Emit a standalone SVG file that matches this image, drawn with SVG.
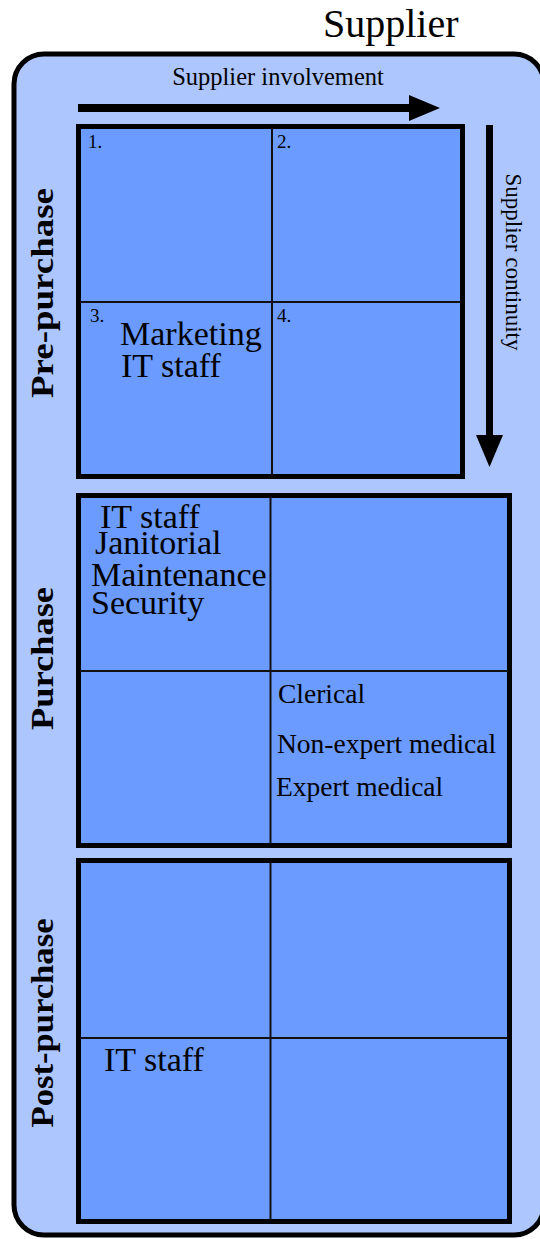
<svg xmlns="http://www.w3.org/2000/svg" width="540" height="1239" viewBox="0 0 540 1239">
<style>
text{font-family:"Liberation Serif","Times New Roman",serif;fill:#000}
.box{fill:#6b9bfe;stroke:#000;stroke-width:5}
.div{stroke:#111;stroke-width:2;fill:none}
.lab{font-weight:bold;font-size:31px}
.num{font-size:19px}
.big{font-size:34px}
.mid{font-size:27.5px}
</style>
<rect width="540" height="1239" fill="#ffffff"/>
<g id="frame">
<rect x="14" y="54" width="530" height="1181" rx="30" ry="30" fill="#aec6fe" stroke="#000" stroke-width="5"/>
</g>
<text x="323" y="37" font-size="40">Supplier</text>
<text x="278" y="85" font-size="24.5" text-anchor="middle">Supplier involvement</text>
<text transform="translate(506,262) rotate(90)" font-size="23" text-anchor="middle">Supplier continuity</text>
<g id="connectors">
<polygon points="78,104 409,104 409,95 440,108 409,121 409,112 78,112" fill="#000"/>
<polygon points="486,125 493,125 493,435 503,435 489.5,467 476,435 486,435" fill="#000"/>
</g>
<g id="pre-purchase">
<rect class="box" x="78.5" y="126.5" width="384" height="350"/>
<line class="div" x1="272" y1="128" x2="272" y2="475"/>
<line class="div" x1="80" y1="302" x2="461" y2="302"/>
<text class="num" x="88" y="148">1.</text>
<text class="num" x="277" y="148">2.</text>
<text class="num" x="90" y="322">3.</text>
<text class="num" x="277" y="322">4.</text>
<text class="big" x="120" y="345">Marketing</text>
<text class="big" x="121" y="377">IT staff</text>
<text class="lab" transform="translate(53,293) rotate(-90)" text-anchor="middle" textLength="210" lengthAdjust="spacingAndGlyphs">Pre-purchase</text>
</g>
<g id="purchase">
<rect class="box" x="78.5" y="495.5" width="431" height="350"/>
<line class="div" x1="270.5" y1="497" x2="270.5" y2="844"/>
<line class="div" x1="80" y1="671" x2="508" y2="671"/>
<text class="big" x="100" y="528">IT staff</text>
<text class="big" x="95" y="554">Janitorial</text>
<text class="big" x="91" y="586">Maintenance</text>
<text class="big" x="91" y="614">Security</text>
<text class="mid" x="278" y="703">Clerical</text>
<text class="mid" x="277" y="753">Non-expert medical</text>
<text class="mid" x="276" y="796">Expert medical</text>
<text class="lab" transform="translate(53,658.5) rotate(-90)" text-anchor="middle" textLength="143" lengthAdjust="spacingAndGlyphs">Purchase</text>
</g>
<g id="post-purchase">
<rect class="box" x="78.5" y="860.5" width="431" height="361"/>
<line class="div" x1="270.5" y1="862" x2="270.5" y2="1220"/>
<line class="div" x1="80" y1="1038" x2="508" y2="1038"/>
<text class="big" x="104" y="1071">IT staff</text>
<text class="lab" transform="translate(53,1023) rotate(-90)" text-anchor="middle" textLength="209" lengthAdjust="spacingAndGlyphs">Post-purchase</text>
</g>
</svg>
